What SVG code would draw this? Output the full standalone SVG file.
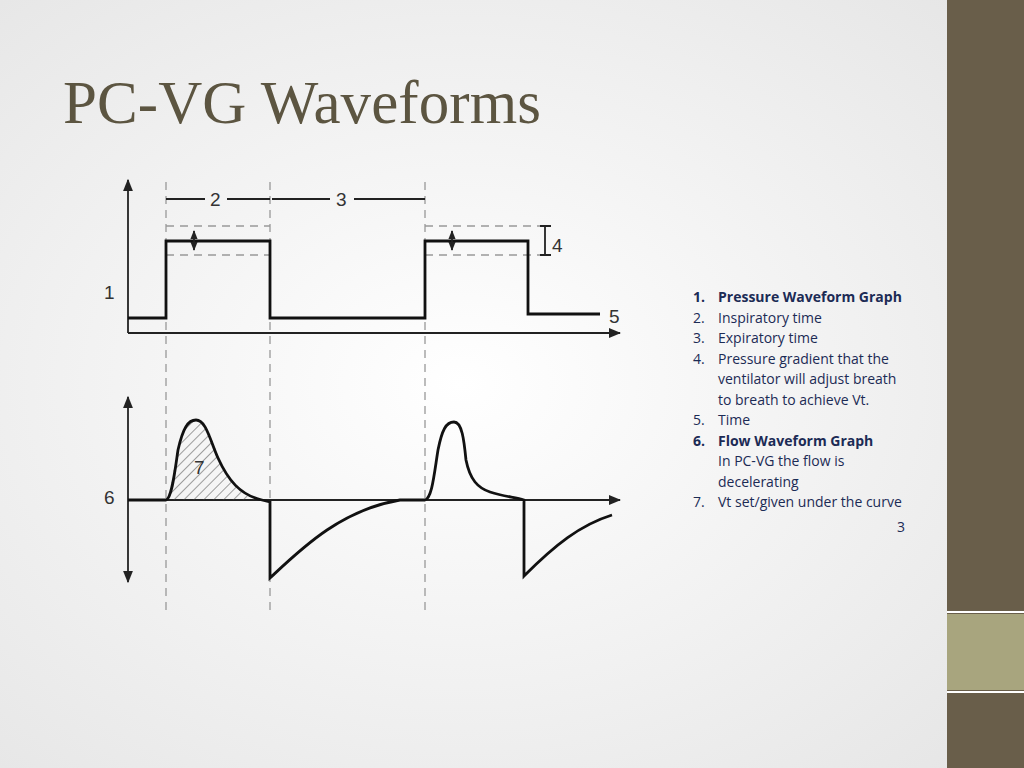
<svg xmlns="http://www.w3.org/2000/svg" width="1024" height="768" viewBox="0 0 1024 768">
<defs>
<radialGradient id="bg" cx="0.45" cy="0.5" r="0.7"><stop offset="0" stop-color="#ffffff"/><stop offset="1" stop-color="#e6e6e6"/></radialGradient>
<pattern id="hatch" width="7" height="7" patternUnits="userSpaceOnUse" patternTransform="rotate(45)"><line x1="0" y1="0" x2="0" y2="7" stroke="#444" stroke-width="1"/></pattern>
<marker id="ah" viewBox="0 0 10 10" refX="9" refY="5" markerWidth="7" markerHeight="7" orient="auto-start-reverse"><path d="M0,1 L10,5 L0,9 z" fill="#222"/></marker>
<marker id="sa" viewBox="0 0 10 10" refX="9" refY="5" markerWidth="5" markerHeight="5" orient="auto-start-reverse"><path d="M0,1 L10,5 L0,9 z" fill="#222"/></marker>
</defs>
<style>
.ax{stroke:#222;stroke-width:1.8;fill:none}
.w{stroke:#111;stroke-width:2.8;fill:none}
.d{stroke:#999;stroke-width:1.3;stroke-dasharray:8,6;fill:none}
.lb{font-family:"Liberation Sans",Arial,sans-serif;font-size:19px;fill:#333}
.t{font-family:"Open Sans","Noto Sans",sans-serif;font-size:14px;fill:#1c2b55}
</style>
<rect width="1024" height="768" fill="url(#bg)"/>
<rect x="947" y="0" width="77" height="768" fill="#695e4a"/>
<rect x="947" y="614" width="77" height="76" fill="#a8a57e"/>
<line x1="947" y1="612" x2="1024" y2="612" stroke="#fff" stroke-width="2"/>
<line x1="947" y1="692" x2="1024" y2="692" stroke="#fff" stroke-width="2"/>
<text x="63" y="123" font-family="'Liberation Serif','Times New Roman',serif" font-size="61" fill="#5c5541" textLength="478">PC-VG Waveforms</text>
<g id="guides">
<path class="d" d="M166,182V610M270,182V610M425,182V610"/>
<path class="d" d="M166,226H270M166,255H270M425,226H540M425,255H540"/>
</g>
<g id="pressure">
<line class="ax" x1="128" y1="333" x2="128" y2="180" marker-end="url(#ah)"/>
<line class="ax" x1="128" y1="333" x2="620" y2="333" marker-end="url(#ah)"/>
<path class="w" d="M128,318H166V241H270V318H425V241H528V314H600"/>
<line class="ax" stroke-width="1.2" x1="194" y1="250" x2="194" y2="231" marker-end="url(#sa)" marker-start="url(#sa)"/>
<line class="ax" stroke-width="1.2" x1="452" y1="250" x2="452" y2="231" marker-end="url(#sa)" marker-start="url(#sa)"/>
<path class="ax" stroke-width="2" d="M545,226V255M540,226H551M540,255H551"/>
<path class="ax" stroke-width="2.5" d="M166,199H205M227,199H270"/>
<path class="ax" stroke-width="1.2" d="M272,199H330M354,199H425"/>
<text class="lb" x="210" y="206">2</text>
<text class="lb" x="336" y="206">3</text>
<text class="lb" x="104" y="299">1</text>
<text class="lb" x="552" y="252">4</text>
<text class="lb" x="609" y="323">5</text>
</g>
<g id="flow">
<line class="ax" x1="128" y1="500" x2="128" y2="397" marker-end="url(#ah)"/>
<line class="ax" x1="128" y1="500" x2="128" y2="582" marker-end="url(#ah)"/>
<line class="ax" x1="128" y1="500" x2="620" y2="500" marker-end="url(#ah)"/>
<path d="M168,500C175,470 178,425 195,421C210,418 212,445 222,465C232,488 245,498 260,500Z" fill="url(#hatch)"/>
<path class="w" d="M128,500H166C172,498 175,470 178,450C183,428 188,420 196,420C206,420 210,440 218,458C228,480 240,495 262,500L270,502V578C300,550 340,510 400,500H425C432,498 434,475 438,450C442,430 446,422 454,422C462,422 464,440 466,460C470,480 478,488 490,492C505,497 515,497 524,500V576C555,545 580,525 612,515"/>
<text class="lb" x="194" y="474">7</text>
<text class="lb" x="104" y="504">6</text>
</g>
<g id="legend">
<text class="t" x="693" y="302" font-weight="bold">1.</text><text class="t" x="718" y="302" font-weight="bold">Pressure Waveform Graph</text>
<text class="t" x="693" y="323">2.</text><text class="t" x="718" y="323">Inspiratory time</text>
<text class="t" x="693" y="343">3.</text><text class="t" x="718" y="343">Expiratory time</text>
<text class="t" x="693" y="364">4.</text><text class="t" x="718" y="364">Pressure gradient that the</text>
<text class="t" x="718" y="384">ventilator will adjust breath</text>
<text class="t" x="718" y="405">to breath to achieve Vt.</text>
<text class="t" x="693" y="425">5.</text><text class="t" x="718" y="425">Time</text>
<text class="t" x="693" y="446" font-weight="bold">6.</text><text class="t" x="718" y="446" font-weight="bold">Flow Waveform Graph</text>
<text class="t" x="718" y="466">In PC-VG the flow is</text>
<text class="t" x="718" y="487">decelerating</text>
<text class="t" x="693" y="507">7.</text><text class="t" x="718" y="507">Vt set/given under the curve</text>
<text class="t" x="897" y="532" font-size="12" fill="#333">3</text>
</g>
</svg>
